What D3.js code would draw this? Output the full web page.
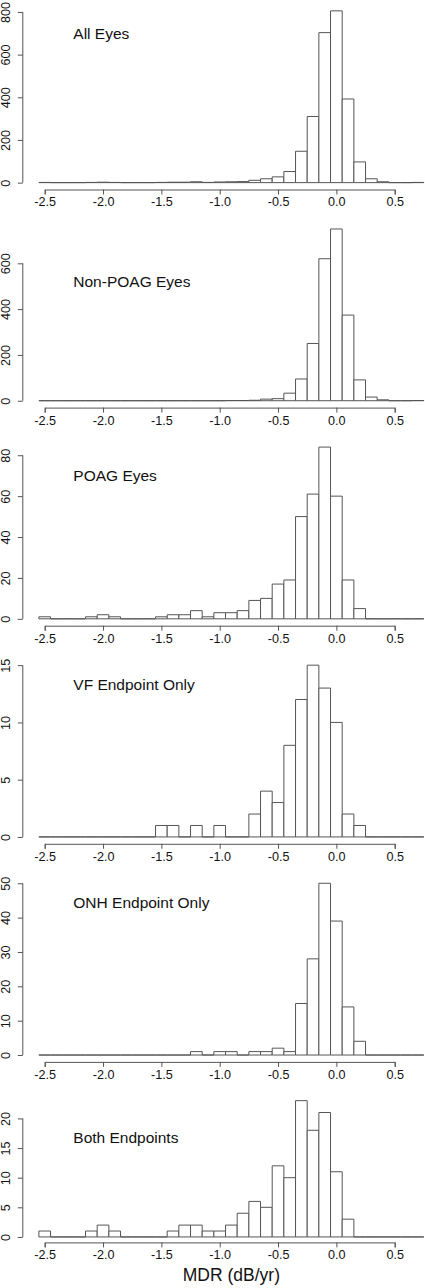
<!DOCTYPE html>
<html><head><meta charset="utf-8">
<script src="https://cdn.jsdelivr.net/npm/d3@7"></script>
<style>body{margin:0;background:#fff}svg{display:block}</style>
</head><body>
<script>
// Bin centers (bin width 0.1, from -2.55 to 0.75)
const binCenters = [-2.5,-2.4,-2.3,-2.2,-2.1,-2.0,-1.9,-1.8,-1.7,-1.6,-1.5,-1.4,-1.3,-1.2,-1.1,-1.0,-0.9,-0.8,-0.7,-0.6,-0.5,-0.4,-0.3,-0.2,-0.1,0.0,0.1,0.2,0.3,0.4,0.5,0.6,0.7];
const binWidth = 0.1;

const panelTitles = ["All Eyes","Non-POAG Eyes","POAG Eyes","VF Endpoint Only","ONH Endpoint Only","Both Endpoints"];

const allEyes     = [1,0,0,0,1,2,1,0,0,0,1,2,2,4,1,3,4,5,11,18,27,52,147,310,703,805,392,97,18,4,0,0,1];
const nonPoagEyes = [0,0,0,0,0,0,0,0,0,0,0,0,0,0,0,0,1,1,2,7,9,33,95,250,620,750,374,91,16,4,0,0,1];
const poagEyes    = [1,0,0,0,1,2,1,0,0,0,1,2,2,4,1,3,3,4,9,10,17,19,50,61,84,60,19,5,0,0,0,0,0];
const vfOnly      = [0,0,0,0,0,0,0,0,0,0,1,1,0,1,0,1,0,0,2,4,3,8,12,15,13,10,2,1,0,0,0,0,0];
const onhOnly     = [0,0,0,0,0,0,0,0,0,0,0,0,0,1,0,1,1,0,1,1,2,1,15,28,50,39,14,4,0,0,0,0,0];
const bothEnd     = [1,0,0,0,1,2,1,0,0,0,0,1,2,2,1,1,2,4,6,5,12,10,23,18,21,11,3,0,0,0,0,0,0];

const panelCounts = [allEyes,nonPoagEyes,poagEyes,vfOnly,onhOnly,bothEnd];

const yTicks = [[0,200,400,600,800],[0,200,400,600],[0,20,40,60,80],[0,5,10,15],[0,10,20,30,40,50],[0,5,10,15,20]];
const titleY = [700,520,70,13.3,44.3,16.7];

const xTickVals = [-2.5,-2.0,-1.5,-1.0,-0.5,0.0,0.5];
const xLabel = "MDR (dB/yr)";

// ---- layout ----
const W = 425, H = 1288;
const svg = d3.select("body").append("svg").attr("width",W).attr("height",H);
const font = "Liberation Sans, Arial, Helvetica, sans-serif";
const stroke = "#555";

const x = d3.scaleLinear().domain([-2.5,0.5]).range([44.7,394.7]);
const yAxisX = 22.8;
const panelBottoms = [189.5,407.6,625.7,843.8,1061.9,1242.4];
const panelHeights = [185.5,185.5,185.5,185.5,185.5,147.2];

panelCounts.forEach((counts,i)=>{
  const maxC = d3.max(counts);
  const bottom = panelBottoms[i], h = panelHeights[i];
  const y = d3.scaleLinear().domain([-0.04*maxC, 1.04*maxC]).range([bottom, bottom-h]);
  const g = svg.append("g");

  // bars (paths so zero-count bins still draw their baseline edge)
  g.selectAll("path.bar").data(binCenters.map((c,k)=>({c, n:counts[k]})))
    .enter().append("path").attr("class","bar")
    .attr("d",d=>{
      const x0 = x(d.c-binWidth/2), x1 = x(d.c+binWidth/2), y0 = y(0), y1 = y(d.n);
      return `M${x0},${y0}V${y1}H${x1}V${y0}Z`;
    })
    .attr("fill","#fff").attr("stroke",stroke).attr("stroke-width",1);

  // x axis
  const xa = d3.axisBottom(x).tickValues(xTickVals).tickFormat(d3.format(".1f")).tickSizeOuter(0).tickSize(5).tickPadding(3);
  const gx = g.append("g").attr("transform",`translate(0,${bottom})`).call(xa);
  gx.select(".domain").attr("stroke",stroke);
  gx.selectAll(".tick line").attr("stroke",stroke);
  gx.selectAll("text").attr("font-family",font).attr("font-size",12.6).attr("fill","#111")
    .text(d=>d3.format(".1f")(d).replace("−","-"));

  // y axis
  const ya = d3.axisLeft(y).tickValues(yTicks[i]).tickSizeOuter(0).tickSize(5);
  const gy = g.append("g").attr("transform",`translate(${yAxisX},0)`).call(ya);
  gy.select(".domain").attr("stroke",stroke)
    .attr("d",`M0,${y(0)}V${y(d3.max(yTicks[i]))}`);
  gy.selectAll(".tick line").attr("stroke",stroke);
  gy.selectAll(".tick text").attr("font-family",font).attr("font-size",12.6).attr("fill","#111")
    .attr("x",null).attr("dy",null).attr("text-anchor","middle")
    .attr("transform","translate(-12.6,0) rotate(-90)");

  // title
  g.append("text").attr("x",73.3).attr("y",y(titleY[i])).attr("dy","0.35em")
    .attr("font-family",font).attr("font-size",15.5).attr("fill","#111")
    .text(panelTitles[i]);
});

svg.append("text").attr("x",x(-0.9)).attr("y",1281).attr("text-anchor","middle")
  .attr("font-family",font).attr("font-size",17.5).attr("fill","#111").text(xLabel);
</script>
</body></html>
